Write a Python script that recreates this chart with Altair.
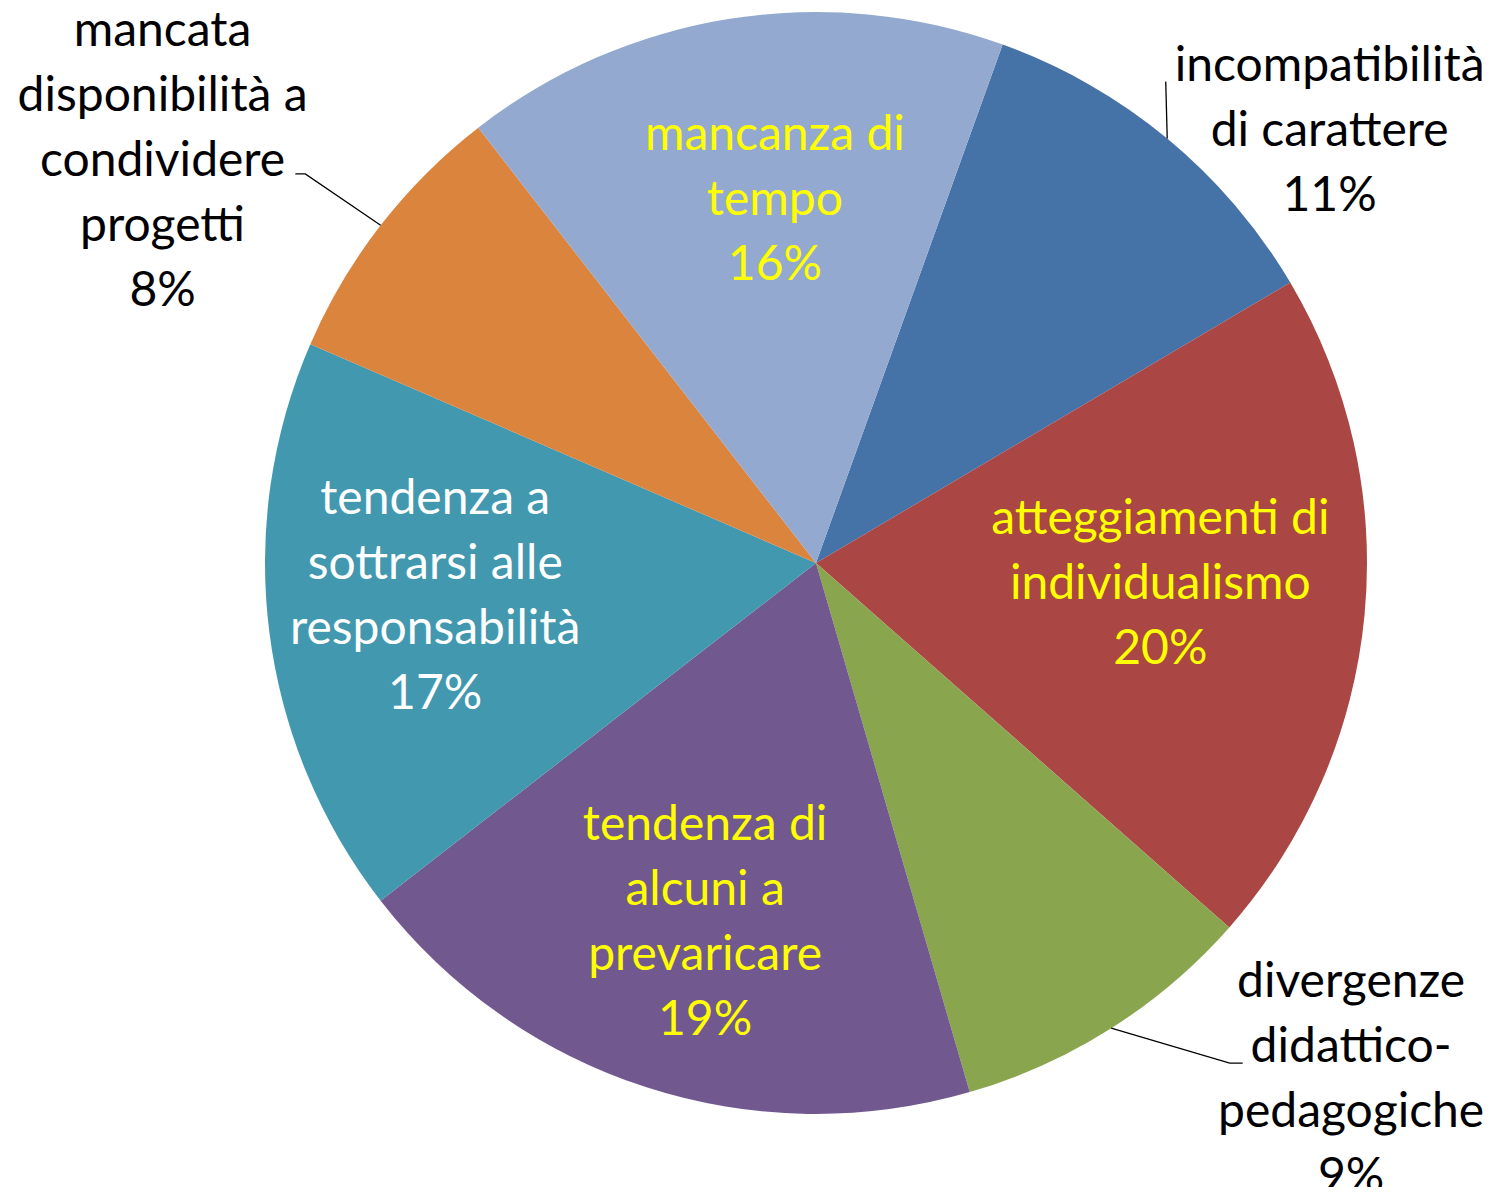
import math
import altair as alt
import pandas as pd

# ---- data ----
categories = [
    "incompatibilità di carattere",
    "atteggiamenti di individualismo",
    "divergenze didattico-pedagogiche",
    "tendenza di alcuni a prevaricare",
    "tendenza a sottrarsi alle responsabilità",
    "mancata disponibilità a condividere progetti",
    "mancanza di tempo",
]
values = [11, 20, 9, 19, 17, 8, 16]
label_lines = [
    ["incompatibilità", "di carattere"],
    ["atteggiamenti di", "individualismo"],
    ["divergenze", "didattico-", "pedagogiche"],
    ["tendenza di", "alcuni a", "prevaricare"],
    ["tendenza a", "sottrarsi alle", "responsabilità"],
    ["mancata", "disponibilità a", "condividere", "progetti"],
    ["mancanza di", "tempo"],
]
colors = ["#4572A7", "#AA4643", "#89A54E", "#71588F", "#4198AF", "#DB843D", "#93A9CF"]

# ---- layout ----
CX, CY, R = 808, 555, 551
START_DEG = 19.8
label_color = ["black", "#FFFF00", "black", "#FFFF00", "white", "black", "#FFFF00"]
# polar position of the first text line of every label
label_radius = [714, 347, 680, 285, 386, 842, 429]
label_shift_deg = [6.4, -12.5, -19.5, 4.9, 16.6, 1.3, 3.5]
# leader lines: (elbow angle shift deg, elbow radius, horizontal tail px)
leaders = {0: (-3.6, 595, 0), 2: (-7.2, 649, 13), 5: (-0.5, 642, -10)}

total = sum(values)
cum = 0
mids = []
for v in values:
    mids.append(cum + v / 2)
    cum += v

rng = [math.radians(START_DEG), math.radians(START_DEG) + 2 * math.pi]
theta_scale = alt.Scale(domain=[0, total], range=rng)

df = pd.DataFrame({
    "cat": categories,
    "value": values,
    "idx": list(range(len(values))),
})
lab = pd.DataFrame({
    "cat": categories,
    "text": [ln + [f"{v}%"] for ln, v in zip(label_lines, values)],
    "pos": [m + s / 360 * total for m, s in zip(mids, label_shift_deg)],
    "r": label_radius,
    "tc": label_color,
})

rows = []
for i, (sh, er, tail) in leaders.items():
    a0 = math.radians(START_DEG + mids[i] / total * 360)
    a1 = a0 + math.radians(sh)
    pts = [(CX + R * math.sin(a0), CY - R * math.cos(a0)),
           (CX + er * math.sin(a1), CY - er * math.cos(a1))]
    if tail:
        pts.append((pts[1][0] + tail, pts[1][1]))
    for k, (x, y) in enumerate(pts):
        rows.append({"g": i, "k": k, "x": x, "y": y})
lines_df = pd.DataFrame(rows)

pie = alt.Chart(df).mark_arc(outerRadius=R).encode(
    theta=alt.Theta("value:Q", stack=True, scale=theta_scale),
    color=alt.Color("cat:N", scale=alt.Scale(domain=categories, range=colors), legend=None),
    order=alt.Order("idx:Q"),
    x=alt.value(CX),
    y=alt.value(CY),
)

text = alt.Chart(lab).mark_text(
    font="Lato", fontSize=48, lineHeight=65, align="center", baseline="middle"
).encode(
    theta=alt.Theta("pos:Q", stack=False, scale=theta_scale),
    radius=alt.Radius("r:Q", scale=None),
    text="text",
    color=alt.Color("tc:N", scale=None),
    x=alt.value(CX),
    y=alt.value(CY),
)

lead = alt.Chart(lines_df).mark_line(color="black", strokeWidth=1.3).encode(
    x=alt.X("x:Q", scale=None),
    y=alt.Y("y:Q", scale=None),
    detail="g:N",
    order="k:Q",
)

chart = alt.layer(pie, lead, text).properties(
    width=1480, height=1179, autosize=alt.AutoSizeParams(type="none"), padding=0
).configure_view(stroke=None)

chart.save("out.html", embed_options={"renderer": "svg", "actions": False})
